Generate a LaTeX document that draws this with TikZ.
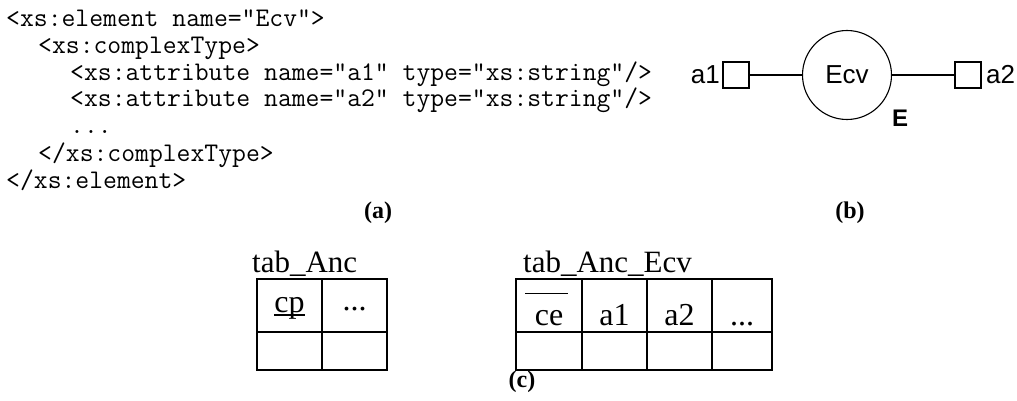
\documentclass[tikz,border=0pt]{standalone}
\usepackage{fontspec}
\setmainfont{Liberation Serif}
\setsansfont{Liberation Sans}
\begin{document}
\begin{tikzpicture}[x=1pt,y=-1pt,
  codeline/.style={anchor=base west,inner sep=0pt,font=\fontsize{26.9}{28}\selectfont\ttfamily},
  figcap/.style={anchor=base,inner sep=0pt,font=\fontsize{24}{26}\selectfont\bfseries},
  ent/.style={draw,circle,line width=1.1pt,minimum size=89pt,inner sep=0pt,font=\fontsize{26}{28}\selectfont\sffamily},
  attr/.style={draw,rectangle,line width=1.1pt,minimum size=26pt,inner sep=0pt},
  conn/.style={line width=1.1pt},
  alabel/.style={inner sep=0pt,font=\fontsize{26}{28}\selectfont\sffamily},
  tabline/.style={line width=2.7pt},
  tabtitle/.style={anchor=base west,inner sep=0pt,font=\fontsize{31}{33}\selectfont},
  celltext/.style={anchor=base,inner sep=0pt,font=\fontsize{32}{34}\selectfont}]
\useasboundingbox (0,0) rectangle (1017,401);
% (a) XML code
\node[codeline] (l1) at (6,27) {<xs:element name="Ecv">};
\node[codeline] (l2) at (38,54) {<xs:complexType>};
\node[codeline] (l3) at (70,80.5) {<xs:attribute name="a1" type="xs:string"/>};
\node[codeline] (l4) at (70,107) {<xs:attribute name="a2" type="xs:string"/>};
\node[codeline] (l5) at (70,134) {...};
\node[codeline] (l6) at (38,161) {</xs:complexType>};
\node[codeline] (l7) at (6,188) {</xs:element>};
\node[figcap] (capa) at (378,218) {(a)};
% (b) diagram
\node[ent] (E) at (847,75) {Ecv};
\node[attr] (A1) at (736,75) {};
\node[attr] (A2) at (968,75) {};
\draw[conn] (A1) -- (E);
\draw[conn] (E) -- (A2);
\node[alabel,anchor=base east] (la1) at (720,84) {a1};
\node[alabel,anchor=base west] (la2) at (986,84) {a2};
\node[alabel,anchor=base,font=\fontsize{24}{26}\selectfont\sffamily\bfseries] (lE) at (900,127) {E};
\node[figcap] (capb) at (850,218) {(b)};
% (c) tables
\node[tabtitle] (t1) at (252,272) {tab\_Anc};
\draw[tabline] (257,279) rectangle (387,370);
\draw[tabline] (322,279) -- (322,370);
\draw[tabline] (257,332) -- (387,332);
\node[celltext] (cp) at (289.5,312) {cp};
\draw[line width=1.8pt] ([yshift=-3pt]cp.base west) -- ([yshift=-3pt]cp.base east);
\node[celltext] (d1) at (354.5,310) {...};
\node[tabtitle] (t2) at (523,272) {tab\_Anc\_Ecv};
\draw[tabline] (516,279) rectangle (772,370);
\draw[tabline] (582,279) -- (582,370);
\draw[tabline] (647,279) -- (647,370);
\draw[tabline] (712,279) -- (712,370);
\draw[tabline] (516,332) -- (772,332);
\node[celltext] (ce) at (549,325) {ce};
\draw[line width=1pt] (525,293) -- (568,293);
\node[celltext] (ca1) at (614.5,325) {a1};
\node[celltext] (ca2) at (679.5,325) {a2};
\node[celltext] (d2) at (742,325) {...};
\node[figcap] (capc) at (522,387) {(c)};
\end{tikzpicture}
\end{document}
